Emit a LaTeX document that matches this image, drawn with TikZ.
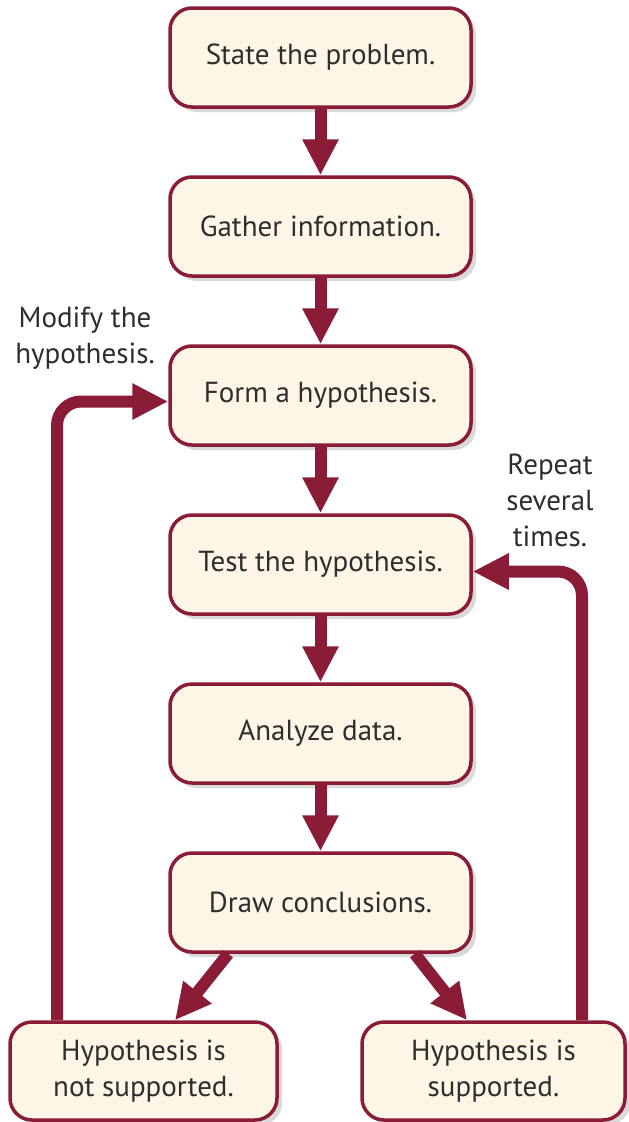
\documentclass[tikz,border=0pt]{standalone}
\usepackage{fontspec}
\setmainfont{PT Sans}
\usetikzlibrary{arrows.meta,shadows}
\definecolor{maroon}{HTML}{8A1C38}
\definecolor{cream}{HTML}{FDF6E6}
\definecolor{ink}{HTML}{2E2E2E}
\begin{document}
\begin{tikzpicture}[x=1pt,y=-1pt,
  stepbox/.style={draw=maroon, line width=3.5pt, fill=cream, rounded corners=22pt,
    minimum width=301pt, minimum height=99pt, text=ink, align=center, inner sep=0pt,
    font=\fontsize{29}{36}\selectfont,
    drop shadow={shadow xshift=5pt, shadow yshift=-5pt, opacity=0.15, fill=black}},
  endbox/.style={stepbox, minimum height=98pt},
  flow/.style={draw=maroon, line width=12pt, -{Triangle[width=34pt,length=36pt]}},
  note/.style={text=ink, align=center, font=\fontsize{29}{36}\selectfont}]
\useasboundingbox (0,0) rectangle (629,1122);

% main sequence of steps
\node[stepbox] (state)   at (320.5,57.5)  {State the problem.};
\node[stepbox] (gather)  at (320.5,226.5) {Gather information.};
\node[stepbox] (form)    at (320.5,395.5) {Form a hypothesis.};
\node[stepbox] (test)    at (320.5,564.5) {Test the hypothesis.};
\node[stepbox] (analyze) at (320.5,733.5) {Analyze data.};
\node[stepbox] (concl)   at (320.5,902.5) {Draw conclusions.};

% outcomes
\node[endbox, minimum width=267pt] (nosup) at (143.5,1071) {Hypothesis is\\not supported.};
\node[endbox, minimum width=263pt] (sup)   at (493.5,1071) {Hypothesis is\\supported.};

% side notes
\node[note] (modify) at (85,338) {Modify the\\hypothesis.};
\node[note] (repeat) at (550,500) {Repeat\\several\\times.};

% forward arrows
\draw[flow] (state)   -- (gather);
\draw[flow] (gather)  -- (form);
\draw[flow] (form)    -- (test);
\draw[flow] (test)    -- (analyze);
\draw[flow] (analyze) -- (concl);
\draw[flow] ([xshift=60pt]concl.south west) -- ([xshift=31.5pt]nosup.north);
\draw[flow] ([xshift=-58pt]concl.south east) -- ([xshift=-26.5pt]sup.north);

% feedback loops
\draw[flow, rounded corners=24pt] ([xshift=-86.5pt]nosup.north) |- ([yshift=-6pt]form.west);
\draw[flow, rounded corners=24pt] ([xshift=88.5pt]sup.north) |- ([yshift=-7pt]test.east);
\end{tikzpicture}
\end{document}
